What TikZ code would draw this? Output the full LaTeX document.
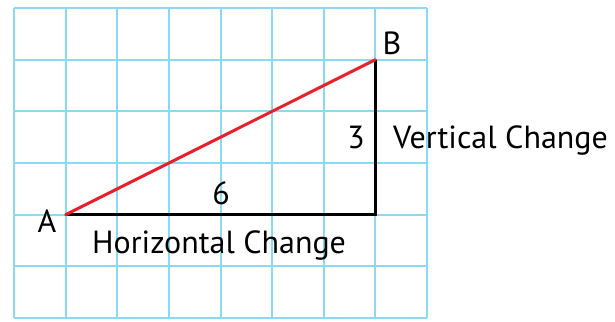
\documentclass[tikz,border=0pt]{standalone}
\usepackage{fontspec}
\setmainfont{PT Sans}
\definecolor{gridblue}{RGB}{138,218,244}
\definecolor{slopered}{RGB}{232,32,42}
\begin{document}
\begin{tikzpicture}[x=1pt,y=-1pt,
  gridline/.style={draw=gridblue,line width=2pt},
  legline/.style={draw=black,line width=3pt},
  hypline/.style={draw=slopered,line width=3pt,line cap=round},
  lbl/.style={font=\fontsize{32}{34}\selectfont,inner sep=0pt}]
\useasboundingbox[fill=white] (0,0) rectangle (615,321);
% grid
\foreach \i in {0,...,8} {
  \draw[gridline] ({14+\i*51.625},8) -- ({14+\i*51.625},318);
}
\foreach \j in {0,...,6} {
  \draw[gridline] (14,{8+\j*51.667}) -- (427,{8+\j*51.667});
}
\coordinate (A) at (65.6,214.7);
\coordinate (C) at (375.4,214.7);
\coordinate (B) at (375.4,59.7);
\draw[legline,line join=miter] (A) -- (C) -- (B);
\draw[hypline] (A) -- (B);
\node[lbl,anchor=base] (la) at (47,232) {A};
\node[lbl,anchor=base] (lb) at (392,55) {B};
\node[lbl,anchor=base] (l6) at (221,204) {6};
\node[lbl,anchor=base] (l3) at (356,148) {3};
\node[lbl,anchor=base west] (lv) at (393,148) {Vertical Change};
\node[lbl,anchor=base west] (lh) at (92,253) {Horizontal Change};
\end{tikzpicture}
\end{document}
